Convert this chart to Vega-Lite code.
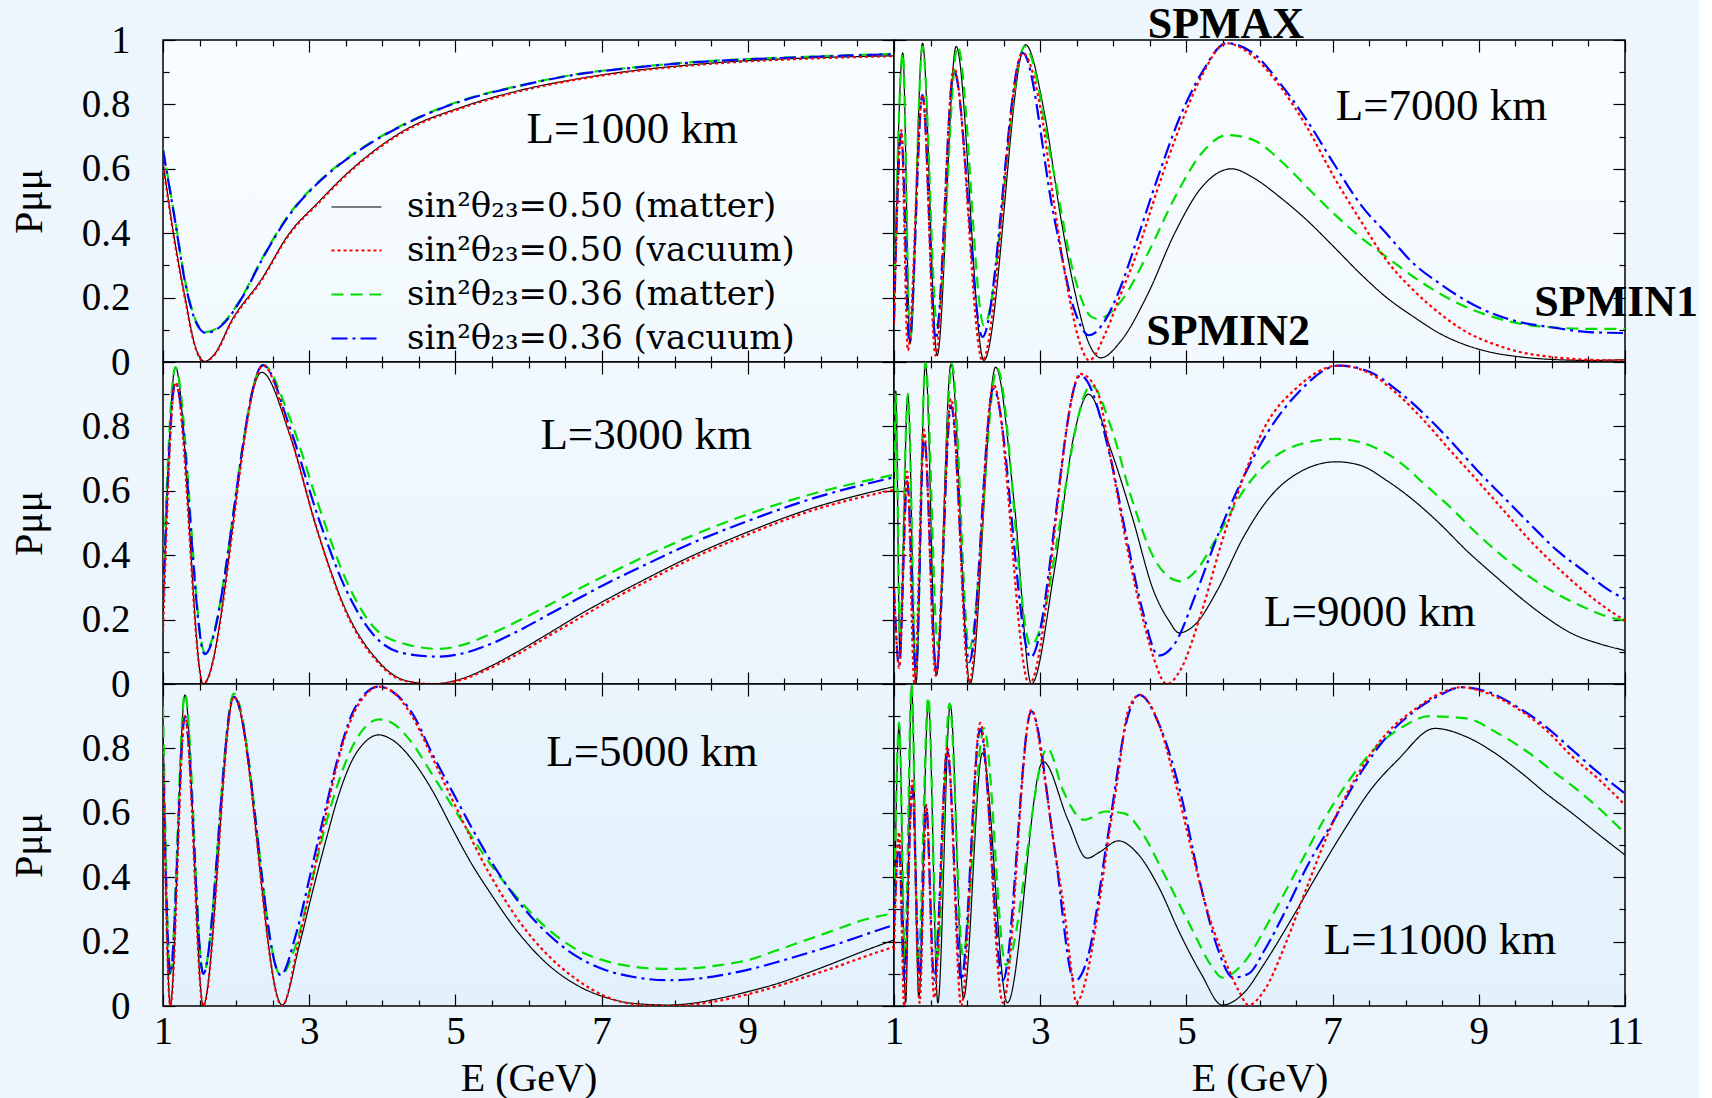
{
"$schema": "https://vega.github.io/schema/vega-lite/v6.json",
"padding": {"left": 8, "top": 2, "right": 0, "bottom": 0},
"background": "#edf6fd",
"bounds": "flush",
"spacing": 0,
"columns": 2,
"datasets": {
"curves": [
{"p":1,"c":"a","e":1,"v":0.62},{"p":1,"c":"a","e":1.16,"v":0.377},{"p":1,"c":"a","e":1.31,"v":0.19},{"p":1,"c":"a","e":1.43,"v":0.057},{"p":1,"c":"a","e":1.57,"v":0.002},{"p":1,"c":"a","e":1.71,"v":0.026},{"p":1,"c":"a","e":1.94,"v":0.129},{"p":1,"c":"a","e":2.34,"v":0.254},{"p":1,"c":"a","e":2.73,"v":0.4},{"p":1,"c":"a","e":3.12,"v":0.495},{"p":1,"c":"a","e":3.51,"v":0.584},{"p":1,"c":"a","e":4.3,"v":0.719},{"p":1,"c":"a","e":5.08,"v":0.791},{"p":1,"c":"a","e":5.87,"v":0.843},{"p":1,"c":"a","e":6.66,"v":0.879},{"p":1,"c":"a","e":7.44,"v":0.905},{"p":1,"c":"a","e":8.23,"v":0.923},{"p":1,"c":"a","e":9.01,"v":0.936},{"p":1,"c":"a","e":9.8,"v":0.944},{"p":1,"c":"a","e":11,"v":0.951},
{"p":1,"c":"c","e":1,"v":0.662},{"p":1,"c":"c","e":1.16,"v":0.45},{"p":1,"c":"c","e":1.31,"v":0.243},{"p":1,"c":"c","e":1.47,"v":0.119},{"p":1,"c":"c","e":1.59,"v":0.093},{"p":1,"c":"c","e":1.79,"v":0.114},{"p":1,"c":"c","e":2.1,"v":0.21},{"p":1,"c":"c","e":2.34,"v":0.315},{"p":1,"c":"c","e":2.73,"v":0.46},{"p":1,"c":"c","e":3.12,"v":0.558},{"p":1,"c":"c","e":3.51,"v":0.631},{"p":1,"c":"c","e":4.3,"v":0.739},{"p":1,"c":"c","e":5.08,"v":0.812},{"p":1,"c":"c","e":5.87,"v":0.858},{"p":1,"c":"c","e":6.66,"v":0.894},{"p":1,"c":"c","e":7.44,"v":0.915},{"p":1,"c":"c","e":8.23,"v":0.931},{"p":1,"c":"c","e":9.01,"v":0.941},{"p":1,"c":"c","e":9.8,"v":0.948},{"p":1,"c":"c","e":11,"v":0.957},
{"p":1,"c":"d","e":1,"v":0.658},{"p":1,"c":"d","e":1.16,"v":0.445},{"p":1,"c":"d","e":1.31,"v":0.238},{"p":1,"c":"d","e":1.47,"v":0.115},{"p":1,"c":"d","e":1.59,"v":0.09},{"p":1,"c":"d","e":1.79,"v":0.111},{"p":1,"c":"d","e":2.1,"v":0.207},{"p":1,"c":"d","e":2.34,"v":0.312},{"p":1,"c":"d","e":2.73,"v":0.457},{"p":1,"c":"d","e":3.12,"v":0.556},{"p":1,"c":"d","e":3.51,"v":0.629},{"p":1,"c":"d","e":4.3,"v":0.737},{"p":1,"c":"d","e":5.08,"v":0.81},{"p":1,"c":"d","e":5.87,"v":0.857},{"p":1,"c":"d","e":6.66,"v":0.893},{"p":1,"c":"d","e":7.44,"v":0.914},{"p":1,"c":"d","e":8.23,"v":0.93},{"p":1,"c":"d","e":9.01,"v":0.94},{"p":1,"c":"d","e":9.8,"v":0.947},{"p":1,"c":"d","e":11,"v":0.956},
{"p":1,"c":"b","e":1,"v":0.615},{"p":1,"c":"b","e":1.16,"v":0.372},{"p":1,"c":"b","e":1.31,"v":0.186},{"p":1,"c":"b","e":1.43,"v":0.054},{"p":1,"c":"b","e":1.57,"v":0},{"p":1,"c":"b","e":1.71,"v":0.024},{"p":1,"c":"b","e":1.94,"v":0.126},{"p":1,"c":"b","e":2.34,"v":0.251},{"p":1,"c":"b","e":2.73,"v":0.397},{"p":1,"c":"b","e":3.12,"v":0.492},{"p":1,"c":"b","e":3.51,"v":0.581},{"p":1,"c":"b","e":4.3,"v":0.716},{"p":1,"c":"b","e":5.08,"v":0.788},{"p":1,"c":"b","e":5.87,"v":0.84},{"p":1,"c":"b","e":6.66,"v":0.877},{"p":1,"c":"b","e":7.44,"v":0.903},{"p":1,"c":"b","e":8.23,"v":0.921},{"p":1,"c":"b","e":9.01,"v":0.934},{"p":1,"c":"b","e":9.8,"v":0.942},{"p":1,"c":"b","e":11,"v":0.95},

{"p":3,"c":"a","e":1,"v":0.218},{"p":3,"c":"a","e":1.17,"v":0.984},{"p":3,"c":"a","e":1.55,"v":0},{"p":3,"c":"a","e":2.35,"v":0.968},{"p":3,"c":"a","e":2.73,"v":0.777},{"p":3,"c":"a","e":3.12,"v":0.47},{"p":3,"c":"a","e":3.51,"v":0.225},{"p":3,"c":"a","e":3.91,"v":0.08},{"p":3,"c":"a","e":4.3,"v":0.012},{"p":3,"c":"a","e":4.69,"v":0},{"p":3,"c":"a","e":5.08,"v":0.016},{"p":3,"c":"a","e":5.48,"v":0.055},{"p":3,"c":"a","e":5.87,"v":0.103},{"p":3,"c":"a","e":6.26,"v":0.155},{"p":3,"c":"a","e":6.66,"v":0.21},{"p":3,"c":"a","e":7.05,"v":0.26},{"p":3,"c":"a","e":7.44,"v":0.307},{"p":3,"c":"a","e":8.23,"v":0.397},{"p":3,"c":"a","e":9.01,"v":0.473},{"p":3,"c":"a","e":9.8,"v":0.54},{"p":3,"c":"a","e":11,"v":0.613},
{"p":3,"c":"c","e":1,"v":0.31},{"p":3,"c":"c","e":1.17,"v":0.984},{"p":3,"c":"c","e":1.57,"v":0.099},{"p":3,"c":"c","e":2.37,"v":0.99},{"p":3,"c":"c","e":2.73,"v":0.829},{"p":3,"c":"c","e":3.12,"v":0.56},{"p":3,"c":"c","e":3.51,"v":0.32},{"p":3,"c":"c","e":3.91,"v":0.17},{"p":3,"c":"c","e":4.3,"v":0.125},{"p":3,"c":"c","e":4.77,"v":0.109},{"p":3,"c":"c","e":5.08,"v":0.12},{"p":3,"c":"c","e":5.48,"v":0.155},{"p":3,"c":"c","e":5.87,"v":0.197},{"p":3,"c":"c","e":6.26,"v":0.243},{"p":3,"c":"c","e":6.66,"v":0.292},{"p":3,"c":"c","e":7.05,"v":0.337},{"p":3,"c":"c","e":7.44,"v":0.38},{"p":3,"c":"c","e":8.23,"v":0.46},{"p":3,"c":"c","e":9.01,"v":0.528},{"p":3,"c":"c","e":9.8,"v":0.585},{"p":3,"c":"c","e":11,"v":0.65},
{"p":3,"c":"d","e":1,"v":0.25},{"p":3,"c":"d","e":1.17,"v":0.937},{"p":3,"c":"d","e":1.57,"v":0.093},{"p":3,"c":"d","e":2.37,"v":0.99},{"p":3,"c":"d","e":2.73,"v":0.8},{"p":3,"c":"d","e":3.12,"v":0.52},{"p":3,"c":"d","e":3.51,"v":0.29},{"p":3,"c":"d","e":3.91,"v":0.145},{"p":3,"c":"d","e":4.3,"v":0.095},{"p":3,"c":"d","e":4.77,"v":0.085},{"p":3,"c":"d","e":5.08,"v":0.094},{"p":3,"c":"d","e":5.48,"v":0.124},{"p":3,"c":"d","e":5.87,"v":0.166},{"p":3,"c":"d","e":6.26,"v":0.214},{"p":3,"c":"d","e":6.66,"v":0.263},{"p":3,"c":"d","e":7.05,"v":0.31},{"p":3,"c":"d","e":7.44,"v":0.353},{"p":3,"c":"d","e":8.23,"v":0.437},{"p":3,"c":"d","e":9.01,"v":0.507},{"p":3,"c":"d","e":9.8,"v":0.57},{"p":3,"c":"d","e":11,"v":0.642},
{"p":3,"c":"b","e":1,"v":0.16},{"p":3,"c":"b","e":1.17,"v":0.937},{"p":3,"c":"b","e":1.55,"v":0},{"p":3,"c":"b","e":2.37,"v":0.989},{"p":3,"c":"b","e":2.73,"v":0.78},{"p":3,"c":"b","e":3.12,"v":0.47},{"p":3,"c":"b","e":3.51,"v":0.22},{"p":3,"c":"b","e":3.91,"v":0.075},{"p":3,"c":"b","e":4.3,"v":0.01},{"p":3,"c":"b","e":4.69,"v":0},{"p":3,"c":"b","e":5.08,"v":0.013},{"p":3,"c":"b","e":5.48,"v":0.05},{"p":3,"c":"b","e":5.87,"v":0.095},{"p":3,"c":"b","e":6.26,"v":0.147},{"p":3,"c":"b","e":6.66,"v":0.2},{"p":3,"c":"b","e":7.05,"v":0.251},{"p":3,"c":"b","e":7.44,"v":0.298},{"p":3,"c":"b","e":8.23,"v":0.389},{"p":3,"c":"b","e":9.01,"v":0.465},{"p":3,"c":"b","e":9.8,"v":0.533},{"p":3,"c":"b","e":11,"v":0.603},

{"p":5,"c":"a","e":1,"v":0.85},{"p":5,"c":"a","e":1.1,"v":0.003},{"p":5,"c":"a","e":1.3,"v":0.966},{"p":5,"c":"a","e":1.55,"v":0.003},{"p":5,"c":"a","e":1.97,"v":0.96},{"p":5,"c":"a","e":2.63,"v":0.003},{"p":5,"c":"a","e":2.86,"v":0.184},{"p":5,"c":"a","e":3.04,"v":0.35},{"p":5,"c":"a","e":3.23,"v":0.516},{"p":5,"c":"a","e":3.41,"v":0.66},{"p":5,"c":"a","e":3.59,"v":0.764},{"p":5,"c":"a","e":3.77,"v":0.821},{"p":5,"c":"a","e":3.95,"v":0.842},{"p":5,"c":"a","e":4.14,"v":0.826},{"p":5,"c":"a","e":4.41,"v":0.764},{"p":5,"c":"a","e":4.68,"v":0.671},{"p":5,"c":"a","e":4.96,"v":0.55},{"p":5,"c":"a","e":5.2,"v":0.45},{"p":5,"c":"a","e":5.48,"v":0.35},{"p":5,"c":"a","e":5.87,"v":0.225},{"p":5,"c":"a","e":6.26,"v":0.13},{"p":5,"c":"a","e":6.66,"v":0.065},{"p":5,"c":"a","e":7.05,"v":0.027},{"p":5,"c":"a","e":7.44,"v":0.008},{"p":5,"c":"a","e":7.91,"v":0.003},{"p":5,"c":"a","e":8.23,"v":0.008},{"p":5,"c":"a","e":8.62,"v":0.024},{"p":5,"c":"a","e":9.01,"v":0.045},{"p":5,"c":"a","e":9.41,"v":0.07},{"p":5,"c":"a","e":9.8,"v":0.101},{"p":5,"c":"a","e":10.19,"v":0.135},{"p":5,"c":"a","e":10.58,"v":0.17},{"p":5,"c":"a","e":11,"v":0.205},
{"p":5,"c":"c","e":1,"v":0.93},{"p":5,"c":"c","e":1.1,"v":0.1},{"p":5,"c":"c","e":1.3,"v":0.97},{"p":5,"c":"c","e":1.55,"v":0.1},{"p":5,"c":"c","e":1.97,"v":0.97},{"p":5,"c":"c","e":2.61,"v":0.096},{"p":5,"c":"c","e":2.81,"v":0.184},{"p":5,"c":"c","e":3.04,"v":0.391},{"p":5,"c":"c","e":3.23,"v":0.567},{"p":5,"c":"c","e":3.41,"v":0.702},{"p":5,"c":"c","e":3.59,"v":0.805},{"p":5,"c":"c","e":3.77,"v":0.867},{"p":5,"c":"c","e":3.95,"v":0.89},{"p":5,"c":"c","e":4.14,"v":0.878},{"p":5,"c":"c","e":4.41,"v":0.816},{"p":5,"c":"c","e":4.68,"v":0.72},{"p":5,"c":"c","e":4.96,"v":0.62},{"p":5,"c":"c","e":5.48,"v":0.44},{"p":5,"c":"c","e":5.87,"v":0.33},{"p":5,"c":"c","e":6.26,"v":0.24},{"p":5,"c":"c","e":6.66,"v":0.175},{"p":5,"c":"c","e":7.05,"v":0.14},{"p":5,"c":"c","e":7.44,"v":0.122},{"p":5,"c":"c","e":7.91,"v":0.115},{"p":5,"c":"c","e":8.23,"v":0.117},{"p":5,"c":"c","e":8.62,"v":0.127},{"p":5,"c":"c","e":9.01,"v":0.143},{"p":5,"c":"c","e":9.41,"v":0.174},{"p":5,"c":"c","e":9.8,"v":0.205},{"p":5,"c":"c","e":10.19,"v":0.236},{"p":5,"c":"c","e":10.58,"v":0.267},{"p":5,"c":"c","e":11,"v":0.288},
{"p":5,"c":"d","e":1,"v":0.78},{"p":5,"c":"d","e":1.1,"v":0.1},{"p":5,"c":"d","e":1.3,"v":0.9},{"p":5,"c":"d","e":1.55,"v":0.1},{"p":5,"c":"d","e":1.97,"v":0.96},{"p":5,"c":"d","e":2.61,"v":0.096},{"p":5,"c":"d","e":2.81,"v":0.215},{"p":5,"c":"d","e":3.04,"v":0.433},{"p":5,"c":"d","e":3.23,"v":0.619},{"p":5,"c":"d","e":3.41,"v":0.785},{"p":5,"c":"d","e":3.59,"v":0.909},{"p":5,"c":"d","e":3.77,"v":0.971},{"p":5,"c":"d","e":3.95,"v":0.992},{"p":5,"c":"d","e":4.14,"v":0.976},{"p":5,"c":"d","e":4.41,"v":0.909},{"p":5,"c":"d","e":4.68,"v":0.785},{"p":5,"c":"d","e":4.96,"v":0.665},{"p":5,"c":"d","e":5.48,"v":0.452},{"p":5,"c":"d","e":5.87,"v":0.322},{"p":5,"c":"d","e":6.26,"v":0.225},{"p":5,"c":"d","e":6.66,"v":0.154},{"p":5,"c":"d","e":7.05,"v":0.112},{"p":5,"c":"d","e":7.44,"v":0.09},{"p":5,"c":"d","e":7.91,"v":0.08},{"p":5,"c":"d","e":8.23,"v":0.083},{"p":5,"c":"d","e":8.62,"v":0.095},{"p":5,"c":"d","e":9.01,"v":0.113},{"p":5,"c":"d","e":9.41,"v":0.137},{"p":5,"c":"d","e":9.8,"v":0.163},{"p":5,"c":"d","e":10.19,"v":0.19},{"p":5,"c":"d","e":10.58,"v":0.22},{"p":5,"c":"d","e":11,"v":0.252},
{"p":5,"c":"b","e":1,"v":0.8},{"p":5,"c":"b","e":1.1,"v":0},{"p":5,"c":"b","e":1.3,"v":0.9},{"p":5,"c":"b","e":1.55,"v":0},{"p":5,"c":"b","e":1.97,"v":0.96},{"p":5,"c":"b","e":2.63,"v":0},{"p":5,"c":"b","e":2.86,"v":0.205},{"p":5,"c":"b","e":3.04,"v":0.391},{"p":5,"c":"b","e":3.23,"v":0.598},{"p":5,"c":"b","e":3.41,"v":0.774},{"p":5,"c":"b","e":3.59,"v":0.899},{"p":5,"c":"b","e":3.77,"v":0.966},{"p":5,"c":"b","e":3.95,"v":0.992},{"p":5,"c":"b","e":4.14,"v":0.976},{"p":5,"c":"b","e":4.41,"v":0.899},{"p":5,"c":"b","e":4.68,"v":0.774},{"p":5,"c":"b","e":4.96,"v":0.64},{"p":5,"c":"b","e":5.48,"v":0.405},{"p":5,"c":"b","e":5.87,"v":0.264},{"p":5,"c":"b","e":6.26,"v":0.159},{"p":5,"c":"b","e":6.66,"v":0.082},{"p":5,"c":"b","e":7.05,"v":0.03},{"p":5,"c":"b","e":7.44,"v":0.006},{"p":5,"c":"b","e":7.91,"v":0},{"p":5,"c":"b","e":8.23,"v":0.004},{"p":5,"c":"b","e":8.62,"v":0.017},{"p":5,"c":"b","e":9.01,"v":0.037},{"p":5,"c":"b","e":9.41,"v":0.062},{"p":5,"c":"b","e":9.8,"v":0.091},{"p":5,"c":"b","e":10.19,"v":0.12},{"p":5,"c":"b","e":10.58,"v":0.152},{"p":5,"c":"b","e":11,"v":0.184},

{"p":7,"c":"a","e":1,"v":0.13},{"p":7,"c":"a","e":1.12,"v":0.96},{"p":7,"c":"a","e":1.22,"v":0.057},{"p":7,"c":"a","e":1.39,"v":0.99},{"p":7,"c":"a","e":1.59,"v":0.02},{"p":7,"c":"a","e":1.85,"v":0.98},{"p":7,"c":"a","e":2.23,"v":0.005},{"p":7,"c":"a","e":2.8,"v":0.985},{"p":7,"c":"a","e":3.06,"v":0.77},{"p":7,"c":"a","e":3.28,"v":0.45},{"p":7,"c":"a","e":3.47,"v":0.222},{"p":7,"c":"a","e":3.65,"v":0.067},{"p":7,"c":"a","e":3.83,"v":0.013},{"p":7,"c":"a","e":4.11,"v":0.067},{"p":7,"c":"a","e":4.47,"v":0.21},{"p":7,"c":"a","e":4.84,"v":0.4},{"p":7,"c":"a","e":5.2,"v":0.54},{"p":7,"c":"a","e":5.62,"v":0.6},{"p":7,"c":"a","e":5.93,"v":0.57},{"p":7,"c":"a","e":6.29,"v":0.51},{"p":7,"c":"a","e":6.65,"v":0.44},{"p":7,"c":"a","e":7.02,"v":0.357},{"p":7,"c":"a","e":7.38,"v":0.274},{"p":7,"c":"a","e":7.74,"v":0.2},{"p":7,"c":"a","e":8.11,"v":0.14},{"p":7,"c":"a","e":8.47,"v":0.088},{"p":7,"c":"a","e":8.83,"v":0.052},{"p":7,"c":"a","e":9.19,"v":0.029},{"p":7,"c":"a","e":9.56,"v":0.016},{"p":7,"c":"a","e":9.99,"v":0.008},{"p":7,"c":"a","e":10.5,"v":0.005},{"p":7,"c":"a","e":11,"v":0.007},
{"p":7,"c":"c","e":1,"v":0.15},{"p":7,"c":"c","e":1.12,"v":0.96},{"p":7,"c":"c","e":1.22,"v":0.067},{"p":7,"c":"c","e":1.39,"v":0.98},{"p":7,"c":"c","e":1.59,"v":0.114},{"p":7,"c":"c","e":1.87,"v":0.98},{"p":7,"c":"c","e":2.23,"v":0.114},{"p":7,"c":"c","e":2.79,"v":0.98},{"p":7,"c":"c","e":3.19,"v":0.584},{"p":7,"c":"c","e":3.47,"v":0.264},{"p":7,"c":"c","e":3.7,"v":0.14},{"p":7,"c":"c","e":3.79,"v":0.134},{"p":7,"c":"c","e":4.11,"v":0.19},{"p":7,"c":"c","e":4.47,"v":0.336},{"p":7,"c":"c","e":4.84,"v":0.51},{"p":7,"c":"c","e":5.2,"v":0.646},{"p":7,"c":"c","e":5.56,"v":0.705},{"p":7,"c":"c","e":5.93,"v":0.688},{"p":7,"c":"c","e":6.29,"v":0.625},{"p":7,"c":"c","e":6.65,"v":0.543},{"p":7,"c":"c","e":7.02,"v":0.46},{"p":7,"c":"c","e":7.38,"v":0.388},{"p":7,"c":"c","e":7.74,"v":0.326},{"p":7,"c":"c","e":8.11,"v":0.264},{"p":7,"c":"c","e":8.47,"v":0.212},{"p":7,"c":"c","e":8.83,"v":0.17},{"p":7,"c":"c","e":9.19,"v":0.14},{"p":7,"c":"c","e":9.56,"v":0.119},{"p":7,"c":"c","e":9.99,"v":0.108},{"p":7,"c":"c","e":10.5,"v":0.103},{"p":7,"c":"c","e":11,"v":0.103},
{"p":7,"c":"d","e":1,"v":0.13},{"p":7,"c":"d","e":1.1,"v":0.71},{"p":7,"c":"d","e":1.21,"v":0.062},{"p":7,"c":"d","e":1.39,"v":0.83},{"p":7,"c":"d","e":1.57,"v":0.072},{"p":7,"c":"d","e":1.82,"v":0.905},{"p":7,"c":"d","e":2.21,"v":0.078},{"p":7,"c":"d","e":2.76,"v":0.96},{"p":7,"c":"d","e":3.19,"v":0.45},{"p":7,"c":"d","e":3.47,"v":0.16},{"p":7,"c":"d","e":3.67,"v":0.083},{"p":7,"c":"d","e":3.89,"v":0.13},{"p":7,"c":"d","e":4.1,"v":0.233},{"p":7,"c":"d","e":4.32,"v":0.377},{"p":7,"c":"d","e":4.61,"v":0.574},{"p":7,"c":"d","e":4.91,"v":0.76},{"p":7,"c":"d","e":5.2,"v":0.894},{"p":7,"c":"d","e":5.55,"v":0.99},{"p":7,"c":"d","e":5.93,"v":0.956},{"p":7,"c":"d","e":6.29,"v":0.863},{"p":7,"c":"d","e":6.65,"v":0.75},{"p":7,"c":"d","e":7.02,"v":0.615},{"p":7,"c":"d","e":7.38,"v":0.49},{"p":7,"c":"d","e":7.74,"v":0.398},{"p":7,"c":"d","e":8.11,"v":0.305},{"p":7,"c":"d","e":8.47,"v":0.243},{"p":7,"c":"d","e":8.83,"v":0.19},{"p":7,"c":"d","e":9.19,"v":0.15},{"p":7,"c":"d","e":9.56,"v":0.124},{"p":7,"c":"d","e":9.99,"v":0.108},{"p":7,"c":"d","e":10.5,"v":0.093},{"p":7,"c":"d","e":11,"v":0.09},
{"p":7,"c":"b","e":1,"v":0.12},{"p":7,"c":"b","e":1.1,"v":0.72},{"p":7,"c":"b","e":1.19,"v":0.036},{"p":7,"c":"b","e":1.39,"v":0.83},{"p":7,"c":"b","e":1.57,"v":0.02},{"p":7,"c":"b","e":1.82,"v":0.915},{"p":7,"c":"b","e":2.21,"v":0.005},{"p":7,"c":"b","e":2.76,"v":0.96},{"p":7,"c":"b","e":3.01,"v":0.78},{"p":7,"c":"b","e":3.19,"v":0.49},{"p":7,"c":"b","e":3.38,"v":0.222},{"p":7,"c":"b","e":3.56,"v":0.047},{"p":7,"c":"b","e":3.67,"v":0.005},{"p":7,"c":"b","e":3.89,"v":0.088},{"p":7,"c":"b","e":4.1,"v":0.21},{"p":7,"c":"b","e":4.32,"v":0.336},{"p":7,"c":"b","e":4.61,"v":0.54},{"p":7,"c":"b","e":4.91,"v":0.73},{"p":7,"c":"b","e":5.2,"v":0.884},{"p":7,"c":"b","e":5.55,"v":0.99},{"p":7,"c":"b","e":5.93,"v":0.946},{"p":7,"c":"b","e":6.29,"v":0.853},{"p":7,"c":"b","e":6.65,"v":0.729},{"p":7,"c":"b","e":7.02,"v":0.574},{"p":7,"c":"b","e":7.38,"v":0.44},{"p":7,"c":"b","e":7.74,"v":0.315},{"p":7,"c":"b","e":8.11,"v":0.222},{"p":7,"c":"b","e":8.47,"v":0.15},{"p":7,"c":"b","e":8.83,"v":0.093},{"p":7,"c":"b","e":9.19,"v":0.057},{"p":7,"c":"b","e":9.56,"v":0.031},{"p":7,"c":"b","e":9.99,"v":0.016},{"p":7,"c":"b","e":10.5,"v":0.007},{"p":7,"c":"b","e":11,"v":0.005},

{"p":9,"c":"a","e":1,"v":0.45},{"p":9,"c":"a","e":1.025,"v":0.91},{"p":9,"c":"a","e":1.08,"v":0.1},{"p":9,"c":"a","e":1.19,"v":0.9},{"p":9,"c":"a","e":1.3,"v":0},{"p":9,"c":"a","e":1.43,"v":0.997},{"p":9,"c":"a","e":1.58,"v":0.026},{"p":9,"c":"a","e":1.78,"v":0.994},{"p":9,"c":"a","e":2.04,"v":0},{"p":9,"c":"a","e":2.39,"v":0.984},{"p":9,"c":"a","e":2.65,"v":0.55},{"p":9,"c":"a","e":2.88,"v":0},{"p":9,"c":"a","e":3.19,"v":0.347},{"p":9,"c":"a","e":3.47,"v":0.782},{"p":9,"c":"a","e":3.66,"v":0.9},{"p":9,"c":"a","e":3.97,"v":0.725},{"p":9,"c":"a","e":4.26,"v":0.518},{"p":9,"c":"a","e":4.55,"v":0.29},{"p":9,"c":"a","e":4.76,"v":0.197},{"p":9,"c":"a","e":4.9,"v":0.159},{"p":9,"c":"a","e":5.13,"v":0.187},{"p":9,"c":"a","e":5.42,"v":0.29},{"p":9,"c":"a","e":5.78,"v":0.456},{"p":9,"c":"a","e":6.14,"v":0.58},{"p":9,"c":"a","e":6.51,"v":0.653},{"p":9,"c":"a","e":7.05,"v":0.69},{"p":9,"c":"a","e":7.38,"v":0.679},{"p":9,"c":"a","e":7.74,"v":0.632},{"p":9,"c":"a","e":8.11,"v":0.57},{"p":9,"c":"a","e":8.47,"v":0.497},{"p":9,"c":"a","e":8.83,"v":0.415},{"p":9,"c":"a","e":9.19,"v":0.342},{"p":9,"c":"a","e":9.56,"v":0.27},{"p":9,"c":"a","e":9.92,"v":0.207},{"p":9,"c":"a","e":10.28,"v":0.156},{"p":9,"c":"a","e":10.65,"v":0.125},{"p":9,"c":"a","e":11,"v":0.104},
{"p":9,"c":"c","e":1,"v":0.6},{"p":9,"c":"c","e":1.025,"v":0.9},{"p":9,"c":"c","e":1.08,"v":0.15},{"p":9,"c":"c","e":1.19,"v":0.9},{"p":9,"c":"c","e":1.3,"v":0.04},{"p":9,"c":"c","e":1.43,"v":0.997},{"p":9,"c":"c","e":1.6,"v":0.12},{"p":9,"c":"c","e":1.79,"v":0.994},{"p":9,"c":"c","e":2.03,"v":0.11},{"p":9,"c":"c","e":2.41,"v":0.98},{"p":9,"c":"c","e":2.87,"v":0.12},{"p":9,"c":"c","e":3.7,"v":0.927},{"p":9,"c":"c","e":3.97,"v":0.797},{"p":9,"c":"c","e":4.26,"v":0.57},{"p":9,"c":"c","e":4.55,"v":0.394},{"p":9,"c":"c","e":4.76,"v":0.332},{"p":9,"c":"c","e":4.92,"v":0.319},{"p":9,"c":"c","e":5.13,"v":0.352},{"p":9,"c":"c","e":5.42,"v":0.456},{"p":9,"c":"c","e":5.78,"v":0.6},{"p":9,"c":"c","e":6.14,"v":0.694},{"p":9,"c":"c","e":6.58,"v":0.746},{"p":9,"c":"c","e":7.05,"v":0.761},{"p":9,"c":"c","e":7.52,"v":0.74},{"p":9,"c":"c","e":7.89,"v":0.694},{"p":9,"c":"c","e":8.25,"v":0.622},{"p":9,"c":"c","e":8.61,"v":0.549},{"p":9,"c":"c","e":8.98,"v":0.466},{"p":9,"c":"c","e":9.34,"v":0.394},{"p":9,"c":"c","e":9.7,"v":0.332},{"p":9,"c":"c","e":10.07,"v":0.28},{"p":9,"c":"c","e":10.43,"v":0.239},{"p":9,"c":"c","e":10.79,"v":0.207},{"p":9,"c":"c","e":11,"v":0.197},
{"p":9,"c":"d","e":1,"v":0.3},{"p":9,"c":"d","e":1.07,"v":0.057},{"p":9,"c":"d","e":1.18,"v":0.63},{"p":9,"c":"d","e":1.3,"v":0.04},{"p":9,"c":"d","e":1.41,"v":0.77},{"p":9,"c":"d","e":1.58,"v":0.037},{"p":9,"c":"d","e":1.78,"v":0.865},{"p":9,"c":"d","e":2.03,"v":0.068},{"p":9,"c":"d","e":2.36,"v":0.917},{"p":9,"c":"d","e":2.87,"v":0.083},{"p":9,"c":"d","e":3.55,"v":0.958},{"p":9,"c":"d","e":3.97,"v":0.694},{"p":9,"c":"d","e":4.18,"v":0.456},{"p":9,"c":"d","e":4.4,"v":0.228},{"p":9,"c":"d","e":4.62,"v":0.088},{"p":9,"c":"d","e":4.84,"v":0.125},{"p":9,"c":"d","e":5.13,"v":0.28},{"p":9,"c":"d","e":5.42,"v":0.456},{"p":9,"c":"d","e":5.78,"v":0.642},{"p":9,"c":"d","e":6.07,"v":0.766},{"p":9,"c":"d","e":6.51,"v":0.9},{"p":9,"c":"d","e":7.09,"v":0.989},{"p":9,"c":"d","e":7.52,"v":0.968},{"p":9,"c":"d","e":7.89,"v":0.911},{"p":9,"c":"d","e":8.25,"v":0.839},{"p":9,"c":"d","e":8.61,"v":0.756},{"p":9,"c":"d","e":8.98,"v":0.663},{"p":9,"c":"d","e":9.34,"v":0.58},{"p":9,"c":"d","e":9.7,"v":0.497},{"p":9,"c":"d","e":10.07,"v":0.415},{"p":9,"c":"d","e":10.43,"v":0.352},{"p":9,"c":"d","e":10.79,"v":0.29},{"p":9,"c":"d","e":11,"v":0.264},
{"p":9,"c":"b","e":1,"v":0.3},{"p":9,"c":"b","e":1.07,"v":0.05},{"p":9,"c":"b","e":1.18,"v":0.66},{"p":9,"c":"b","e":1.28,"v":0},{"p":9,"c":"b","e":1.41,"v":0.79},{"p":9,"c":"b","e":1.57,"v":0.026},{"p":9,"c":"b","e":1.78,"v":0.886},{"p":9,"c":"b","e":2.03,"v":0.006},{"p":9,"c":"b","e":2.36,"v":0.93},{"p":9,"c":"b","e":2.85,"v":0},{"p":9,"c":"b","e":3.55,"v":0.963},{"p":9,"c":"b","e":3.78,"v":0.91},{"p":9,"c":"b","e":3.97,"v":0.694},{"p":9,"c":"b","e":4.18,"v":0.435},{"p":9,"c":"b","e":4.4,"v":0.207},{"p":9,"c":"b","e":4.55,"v":0.083},{"p":9,"c":"b","e":4.73,"v":0},{"p":9,"c":"b","e":4.91,"v":0.04},{"p":9,"c":"b","e":5.2,"v":0.218},{"p":9,"c":"b","e":5.49,"v":0.445},{"p":9,"c":"b","e":5.78,"v":0.642},{"p":9,"c":"b","e":6.07,"v":0.797},{"p":9,"c":"b","e":6.51,"v":0.92},{"p":9,"c":"b","e":7.09,"v":0.989},{"p":9,"c":"b","e":7.52,"v":0.963},{"p":9,"c":"b","e":7.89,"v":0.9},{"p":9,"c":"b","e":8.25,"v":0.818},{"p":9,"c":"b","e":8.61,"v":0.725},{"p":9,"c":"b","e":8.98,"v":0.632},{"p":9,"c":"b","e":9.34,"v":0.539},{"p":9,"c":"b","e":9.7,"v":0.446},{"p":9,"c":"b","e":10.07,"v":0.363},{"p":9,"c":"b","e":10.43,"v":0.29},{"p":9,"c":"b","e":10.79,"v":0.228},{"p":9,"c":"b","e":11,"v":0.197},

{"p":11,"c":"a","e":1,"v":0.2},{"p":11,"c":"a","e":1.07,"v":0.874},{"p":11,"c":"a","e":1.16,"v":0.01},{"p":11,"c":"a","e":1.24,"v":0.993},{"p":11,"c":"a","e":1.34,"v":0.025},{"p":11,"c":"a","e":1.47,"v":0.946},{"p":11,"c":"a","e":1.6,"v":0.01},{"p":11,"c":"a","e":1.77,"v":0.936},{"p":11,"c":"a","e":1.95,"v":0.025},{"p":11,"c":"a","e":2.21,"v":0.786},{"p":11,"c":"a","e":2.55,"v":0.01},{"p":11,"c":"a","e":3.04,"v":0.759},{"p":11,"c":"a","e":3.38,"v":0.578},{"p":11,"c":"a","e":3.64,"v":0.459},{"p":11,"c":"a","e":3.82,"v":0.479},{"p":11,"c":"a","e":4.07,"v":0.513},{"p":11,"c":"a","e":4.33,"v":0.474},{"p":11,"c":"a","e":4.62,"v":0.37},{"p":11,"c":"a","e":4.91,"v":0.226},{"p":11,"c":"a","e":5.2,"v":0.101},{"p":11,"c":"a","e":5.49,"v":0.003},{"p":11,"c":"a","e":5.78,"v":0.039},{"p":11,"c":"a","e":6.07,"v":0.133},{"p":11,"c":"a","e":6.43,"v":0.267},{"p":11,"c":"a","e":6.8,"v":0.412},{"p":11,"c":"a","e":7.16,"v":0.547},{"p":11,"c":"a","e":7.52,"v":0.671},{"p":11,"c":"a","e":7.89,"v":0.764},{"p":11,"c":"a","e":8.4,"v":0.862},{"p":11,"c":"a","e":8.83,"v":0.836},{"p":11,"c":"a","e":9.19,"v":0.79},{"p":11,"c":"a","e":9.56,"v":0.728},{"p":11,"c":"a","e":9.92,"v":0.66},{"p":11,"c":"a","e":10.28,"v":0.598},{"p":11,"c":"a","e":10.65,"v":0.531},{"p":11,"c":"a","e":11,"v":0.469},
{"p":11,"c":"c","e":1,"v":0.277},{"p":11,"c":"c","e":1.07,"v":0.88},{"p":11,"c":"c","e":1.15,"v":0.15},{"p":11,"c":"c","e":1.24,"v":0.998},{"p":11,"c":"c","e":1.33,"v":0.13},{"p":11,"c":"c","e":1.47,"v":0.96},{"p":11,"c":"c","e":1.59,"v":0.139},{"p":11,"c":"c","e":1.76,"v":0.94},{"p":11,"c":"c","e":1.94,"v":0.16},{"p":11,"c":"c","e":2.23,"v":0.863},{"p":11,"c":"c","e":2.53,"v":0.128},{"p":11,"c":"c","e":3.1,"v":0.8},{"p":11,"c":"c","e":3.31,"v":0.671},{"p":11,"c":"c","e":3.6,"v":0.578},{"p":11,"c":"c","e":3.89,"v":0.604},{"p":11,"c":"c","e":4.15,"v":0.598},{"p":11,"c":"c","e":4.4,"v":0.536},{"p":11,"c":"c","e":4.69,"v":0.412},{"p":11,"c":"c","e":5.06,"v":0.246},{"p":11,"c":"c","e":5.35,"v":0.122},{"p":11,"c":"c","e":5.49,"v":0.088},{"p":11,"c":"c","e":5.78,"v":0.133},{"p":11,"c":"c","e":6.14,"v":0.267},{"p":11,"c":"c","e":6.51,"v":0.422},{"p":11,"c":"c","e":6.88,"v":0.578},{"p":11,"c":"c","e":7.23,"v":0.702},{"p":11,"c":"c","e":7.6,"v":0.805},{"p":11,"c":"c","e":7.96,"v":0.867},{"p":11,"c":"c","e":8.32,"v":0.9},{"p":11,"c":"c","e":8.83,"v":0.893},{"p":11,"c":"c","e":9.26,"v":0.847},{"p":11,"c":"c","e":9.63,"v":0.795},{"p":11,"c":"c","e":9.99,"v":0.733},{"p":11,"c":"c","e":10.35,"v":0.671},{"p":11,"c":"c","e":10.72,"v":0.598},{"p":11,"c":"c","e":11,"v":0.536},
{"p":11,"c":"d","e":1,"v":0.25},{"p":11,"c":"d","e":1.07,"v":0.5},{"p":11,"c":"d","e":1.14,"v":0.08},{"p":11,"c":"d","e":1.25,"v":0.68},{"p":11,"c":"d","e":1.35,"v":0.08},{"p":11,"c":"d","e":1.44,"v":0.62},{"p":11,"c":"d","e":1.55,"v":0.08},{"p":11,"c":"d","e":1.73,"v":0.79},{"p":11,"c":"d","e":1.92,"v":0.08},{"p":11,"c":"d","e":2.18,"v":0.86},{"p":11,"c":"d","e":2.49,"v":0.08},{"p":11,"c":"d","e":2.88,"v":0.915},{"p":11,"c":"d","e":3.19,"v":0.5},{"p":11,"c":"d","e":3.47,"v":0.077},{"p":11,"c":"d","e":3.65,"v":0.15},{"p":11,"c":"d","e":3.92,"v":0.52},{"p":11,"c":"d","e":4.2,"v":0.9},{"p":11,"c":"d","e":4.36,"v":0.966},{"p":11,"c":"d","e":4.62,"v":0.878},{"p":11,"c":"d","e":4.91,"v":0.67},{"p":11,"c":"d","e":5.2,"v":0.37},{"p":11,"c":"d","e":5.42,"v":0.184},{"p":11,"c":"d","e":5.64,"v":0.088},{"p":11,"c":"d","e":5.85,"v":0.1},{"p":11,"c":"d","e":6.07,"v":0.174},{"p":11,"c":"d","e":6.36,"v":0.298},{"p":11,"c":"d","e":6.65,"v":0.433},{"p":11,"c":"d","e":7.02,"v":0.578},{"p":11,"c":"d","e":7.38,"v":0.722},{"p":11,"c":"d","e":7.74,"v":0.836},{"p":11,"c":"d","e":8.11,"v":0.914},{"p":11,"c":"d","e":8.47,"v":0.966},{"p":11,"c":"d","e":8.76,"v":0.99},{"p":11,"c":"d","e":9.12,"v":0.976},{"p":11,"c":"d","e":9.56,"v":0.924},{"p":11,"c":"d","e":9.92,"v":0.867},{"p":11,"c":"d","e":10.28,"v":0.795},{"p":11,"c":"d","e":10.65,"v":0.722},{"p":11,"c":"d","e":11,"v":0.66},
{"p":11,"c":"b","e":1,"v":0.174},{"p":11,"c":"b","e":1.07,"v":0.54},{"p":11,"c":"b","e":1.14,"v":0},{"p":11,"c":"b","e":1.25,"v":0.7},{"p":11,"c":"b","e":1.35,"v":0.01},{"p":11,"c":"b","e":1.44,"v":0.625},{"p":11,"c":"b","e":1.55,"v":0.025},{"p":11,"c":"b","e":1.73,"v":0.806},{"p":11,"c":"b","e":1.92,"v":0},{"p":11,"c":"b","e":2.18,"v":0.879},{"p":11,"c":"b","e":2.49,"v":0.01},{"p":11,"c":"b","e":2.88,"v":0.92},{"p":11,"c":"b","e":3.06,"v":0.708},{"p":11,"c":"b","e":3.19,"v":0.5},{"p":11,"c":"b","e":3.33,"v":0.294},{"p":11,"c":"b","e":3.44,"v":0.087},{"p":11,"c":"b","e":3.49,"v":0.01},{"p":11,"c":"b","e":3.65,"v":0.108},{"p":11,"c":"b","e":3.79,"v":0.294},{"p":11,"c":"b","e":3.92,"v":0.5},{"p":11,"c":"b","e":4.06,"v":0.708},{"p":11,"c":"b","e":4.2,"v":0.915},{"p":11,"c":"b","e":4.36,"v":0.966},{"p":11,"c":"b","e":4.62,"v":0.878},{"p":11,"c":"b","e":4.84,"v":0.702},{"p":11,"c":"b","e":5.06,"v":0.495},{"p":11,"c":"b","e":5.27,"v":0.308},{"p":11,"c":"b","e":5.49,"v":0.164},{"p":11,"c":"b","e":5.71,"v":0.05},{"p":11,"c":"b","e":5.85,"v":0.003},{"p":11,"c":"b","e":6.07,"v":0.05},{"p":11,"c":"b","e":6.36,"v":0.195},{"p":11,"c":"b","e":6.65,"v":0.37},{"p":11,"c":"b","e":7.02,"v":0.578},{"p":11,"c":"b","e":7.38,"v":0.733},{"p":11,"c":"b","e":7.74,"v":0.847},{"p":11,"c":"b","e":8.11,"v":0.919},{"p":11,"c":"b","e":8.47,"v":0.971},{"p":11,"c":"b","e":8.76,"v":0.99},{"p":11,"c":"b","e":9.12,"v":0.971},{"p":11,"c":"b","e":9.56,"v":0.919},{"p":11,"c":"b","e":9.92,"v":0.857},{"p":11,"c":"b","e":10.28,"v":0.774},{"p":11,"c":"b","e":10.65,"v":0.702},{"p":11,"c":"b","e":11,"v":0.624}
]
},
"concat": [
 {"width": 731, "height": 322,
  "view": {"fill": {"gradient": "linear", "x1": 0, "y1": 0, "x2": 0, "y2": 1, "stops": [{"offset": 0, "color": "#f9fdff"}, {"offset": 1, "color": "#f1f9fe"}]}},
  "resolve": {"axis": {"x": "independent", "y": "independent"}},
  "layer": [
   {"data": {"name": "curves"}, "transform": [{"filter": "datum.p == 1"}],
    "mark": {"type": "line", "interpolate": "monotone", "clip": true},
    "encoding": {
     "x": {"field": "e", "type": "quantitative", "scale": {"domain": [1, 11], "nice": false, "zero": false}, "axis": {"orient": "bottom", "values": [1,1.5,2,2.5,3,3.5,4,4.5,5,5.5,6,6.5,7,7.5,8,8.5,9,9.5,10,10.5,11], "labels": false, "title": null, "tickSize": {"condition": {"test": "round(datum.value*2)%4==2", "value": -12}, "value": -6}}},
     "y": {"field": "v", "type": "quantitative", "scale": {"domain": [0, 1], "nice": false}, "axis": {"orient": "left", "values": [0,0.1,0.2,0.3,0.4,0.5,0.6,0.7,0.8,0.9,1], "labelExpr": "round(datum.value*10)%2==0 ? format(datum.value,'~g') : ''", "tickSize": {"condition": {"test": "round(datum.value*10)%2==0", "value": -12}, "value": -6}, "title": "Pμμ", "labelPadding": 45, "titlePadding": 32}},
     "color": {"field": "c", "type": "nominal", "scale": {"domain": ["a","b","c","d"], "range": ["#000000","#ff0000","#00e000","#0000ff"]}, "legend": {"title": null, "labelExpr": "datum.label=='a' ? 'sin²θ₂₃=0.50 (matter)' : datum.label=='b' ? 'sin²θ₂₃=0.50 (vacuum)' : datum.label=='c' ? 'sin²θ₂₃=0.36 (matter)' : 'sin²θ₂₃=0.36 (vacuum)'"}},
     "strokeDash": {"field": "c", "type": "nominal", "scale": {"domain": ["a","b","c","d"], "range": [[1,0],[3,3],[12,7],[16,5,3,5]]}, "legend": {"title": null, "labelExpr": "datum.label=='a' ? 'sin²θ₂₃=0.50 (matter)' : datum.label=='b' ? 'sin²θ₂₃=0.50 (vacuum)' : datum.label=='c' ? 'sin²θ₂₃=0.36 (matter)' : 'sin²θ₂₃=0.36 (vacuum)'"}},
     "strokeWidth": {"field": "c", "type": "nominal", "scale": {"type": "ordinal", "domain": ["a","b","c","d"], "range": [1.2,2.2,2.2,2.2]}, "legend": {"title": null, "labelExpr": "datum.label=='a' ? 'sin²θ₂₃=0.50 (matter)' : datum.label=='b' ? 'sin²θ₂₃=0.50 (vacuum)' : datum.label=='c' ? 'sin²θ₂₃=0.36 (matter)' : 'sin²θ₂₃=0.36 (vacuum)'"}}
    }},
   {"data": {"values": [{"e": 7.42, "v": 0.724, "t": "L=1000 km"}]},
    "mark": {"type": "text", "font": "Liberation Serif", "fontSize": 45},
    "encoding": {
     "x": {"field": "e", "type": "quantitative", "axis": {"orient": "top", "values": [1,1.5,2,2.5,3,3.5,4,4.5,5,5.5,6,6.5,7,7.5,8,8.5,9,9.5,10,10.5,11], "labels": false, "title": null, "tickSize": {"condition": {"test": "round(datum.value*2)%4==2", "value": -12}, "value": -6}}},
     "y": {"field": "v", "type": "quantitative", "axis": {"orient": "right", "values": [0,0.1,0.2,0.3,0.4,0.5,0.6,0.7,0.8,0.9,1], "labels": false, "title": null, "tickSize": {"condition": {"test": "round(datum.value*10)%2==0", "value": -12}, "value": -6}}},
     "text": {"field": "t"}
    }}
  ]},
 {"width": 731, "height": 322,
  "view": {"fill": {"gradient": "linear", "x1": 0, "y1": 0, "x2": 0, "y2": 1, "stops": [{"offset": 0, "color": "#f9fdff"}, {"offset": 1, "color": "#f1f9fe"}]}},
  "resolve": {"axis": {"x": "independent", "y": "independent"}},
  "layer": [
   {"data": {"name": "curves"}, "transform": [{"filter": "datum.p == 7"}],
    "mark": {"type": "line", "interpolate": "monotone", "clip": true},
    "encoding": {
     "x": {"field": "e", "type": "quantitative", "scale": {"domain": [1, 11], "nice": false, "zero": false}, "axis": {"orient": "bottom", "values": [1,1.5,2,2.5,3,3.5,4,4.5,5,5.5,6,6.5,7,7.5,8,8.5,9,9.5,10,10.5,11], "labels": false, "title": null, "tickSize": {"condition": {"test": "round(datum.value*2)%4==2", "value": -12}, "value": -6}}},
     "y": {"field": "v", "type": "quantitative", "scale": {"domain": [0, 1], "nice": false}, "axis": {"orient": "left", "values": [0,0.1,0.2,0.3,0.4,0.5,0.6,0.7,0.8,0.9,1], "labels": false, "title": null, "tickSize": {"condition": {"test": "round(datum.value*10)%2==0", "value": -12}, "value": -6}}},
     "color": {"field": "c", "type": "nominal", "scale": {"domain": ["a","b","c","d"], "range": ["#000000","#ff0000","#00e000","#0000ff"]}, "legend": {"title": null, "labelExpr": "datum.label=='a' ? 'sin²θ₂₃=0.50 (matter)' : datum.label=='b' ? 'sin²θ₂₃=0.50 (vacuum)' : datum.label=='c' ? 'sin²θ₂₃=0.36 (matter)' : 'sin²θ₂₃=0.36 (vacuum)'"}},
     "strokeDash": {"field": "c", "type": "nominal", "scale": {"domain": ["a","b","c","d"], "range": [[1,0],[3,3],[12,7],[16,5,3,5]]}, "legend": {"title": null, "labelExpr": "datum.label=='a' ? 'sin²θ₂₃=0.50 (matter)' : datum.label=='b' ? 'sin²θ₂₃=0.50 (vacuum)' : datum.label=='c' ? 'sin²θ₂₃=0.36 (matter)' : 'sin²θ₂₃=0.36 (vacuum)'"}},
     "strokeWidth": {"field": "c", "type": "nominal", "scale": {"type": "ordinal", "domain": ["a","b","c","d"], "range": [1.2,2.2,2.2,2.2]}, "legend": {"title": null, "labelExpr": "datum.label=='a' ? 'sin²θ₂₃=0.50 (matter)' : datum.label=='b' ? 'sin²θ₂₃=0.50 (vacuum)' : datum.label=='c' ? 'sin²θ₂₃=0.36 (matter)' : 'sin²θ₂₃=0.36 (vacuum)'"}}
    }},
   {"data": {"values": [{"e": 8.49, "v": 0.796, "t": "L=7000 km"}]},
    "mark": {"type": "text", "font": "Liberation Serif", "fontSize": 45},
    "encoding": {
     "x": {"field": "e", "type": "quantitative", "axis": {"orient": "top", "values": [1,1.5,2,2.5,3,3.5,4,4.5,5,5.5,6,6.5,7,7.5,8,8.5,9,9.5,10,10.5,11], "labels": false, "title": null, "tickSize": {"condition": {"test": "round(datum.value*2)%4==2", "value": -12}, "value": -6}}},
     "y": {"field": "v", "type": "quantitative", "axis": {"orient": "right", "values": [0,0.1,0.2,0.3,0.4,0.5,0.6,0.7,0.8,0.9,1], "labels": false, "title": null, "tickSize": {"condition": {"test": "round(datum.value*10)%2==0", "value": -12}, "value": -6}}},
     "text": {"field": "t"}
    }},
   {"data": {"values": [{"e": 5.54, "v": 1.046, "t": "SPMAX"}, {"e": 5.57, "v": 0.093, "t": "SPMIN2"}, {"e": 10.88, "v": 0.183, "t": "SPMIN1"}]},
    "mark": {"type": "text", "font": "Liberation Serif", "fontSize": 44, "fontWeight": "bold"},
    "encoding": {
     "x": {"field": "e", "type": "quantitative", "axis": null},
     "y": {"field": "v", "type": "quantitative", "axis": null},
     "text": {"field": "t"}
    }}
  ]},
 {"width": 731, "height": 322,
  "view": {"fill": {"gradient": "linear", "x1": 0, "y1": 0, "x2": 0, "y2": 1, "stops": [{"offset": 0, "color": "#f1f9fe"}, {"offset": 1, "color": "#eaf5fd"}]}},
  "resolve": {"axis": {"x": "independent", "y": "independent"}},
  "layer": [
   {"data": {"name": "curves"}, "transform": [{"filter": "datum.p == 3"}],
    "mark": {"type": "line", "interpolate": "monotone", "clip": true},
    "encoding": {
     "x": {"field": "e", "type": "quantitative", "scale": {"domain": [1, 11], "nice": false, "zero": false}, "axis": {"orient": "bottom", "values": [1,1.5,2,2.5,3,3.5,4,4.5,5,5.5,6,6.5,7,7.5,8,8.5,9,9.5,10,10.5,11], "labels": false, "title": null, "tickSize": {"condition": {"test": "round(datum.value*2)%4==2", "value": -12}, "value": -6}}},
     "y": {"field": "v", "type": "quantitative", "scale": {"domain": [0, 1], "nice": false}, "axis": {"orient": "left", "values": [0,0.1,0.2,0.3,0.4,0.5,0.6,0.7,0.8,0.9,1], "labelExpr": "round(datum.value*10)%2==0 && datum.value<0.95 ? format(datum.value,'~g') : ''", "tickSize": {"condition": {"test": "round(datum.value*10)%2==0", "value": -12}, "value": -6}, "title": "Pμμ", "labelPadding": 45, "titlePadding": 32}},
     "color": {"field": "c", "type": "nominal", "scale": {"domain": ["a","b","c","d"], "range": ["#000000","#ff0000","#00e000","#0000ff"]}, "legend": {"title": null, "labelExpr": "datum.label=='a' ? 'sin²θ₂₃=0.50 (matter)' : datum.label=='b' ? 'sin²θ₂₃=0.50 (vacuum)' : datum.label=='c' ? 'sin²θ₂₃=0.36 (matter)' : 'sin²θ₂₃=0.36 (vacuum)'"}},
     "strokeDash": {"field": "c", "type": "nominal", "scale": {"domain": ["a","b","c","d"], "range": [[1,0],[3,3],[12,7],[16,5,3,5]]}, "legend": {"title": null, "labelExpr": "datum.label=='a' ? 'sin²θ₂₃=0.50 (matter)' : datum.label=='b' ? 'sin²θ₂₃=0.50 (vacuum)' : datum.label=='c' ? 'sin²θ₂₃=0.36 (matter)' : 'sin²θ₂₃=0.36 (vacuum)'"}},
     "strokeWidth": {"field": "c", "type": "nominal", "scale": {"type": "ordinal", "domain": ["a","b","c","d"], "range": [1.2,2.2,2.2,2.2]}, "legend": {"title": null, "labelExpr": "datum.label=='a' ? 'sin²θ₂₃=0.50 (matter)' : datum.label=='b' ? 'sin²θ₂₃=0.50 (vacuum)' : datum.label=='c' ? 'sin²θ₂₃=0.36 (matter)' : 'sin²θ₂₃=0.36 (vacuum)'"}}
    }},
   {"data": {"values": [{"e": 7.61, "v": 0.772, "t": "L=3000 km"}]},
    "mark": {"type": "text", "font": "Liberation Serif", "fontSize": 45},
    "encoding": {
     "x": {"field": "e", "type": "quantitative", "axis": {"orient": "top", "values": [1,1.5,2,2.5,3,3.5,4,4.5,5,5.5,6,6.5,7,7.5,8,8.5,9,9.5,10,10.5,11], "labels": false, "title": null, "tickSize": {"condition": {"test": "round(datum.value*2)%4==2", "value": -12}, "value": -6}}},
     "y": {"field": "v", "type": "quantitative", "axis": {"orient": "right", "values": [0,0.1,0.2,0.3,0.4,0.5,0.6,0.7,0.8,0.9,1], "labels": false, "title": null, "tickSize": {"condition": {"test": "round(datum.value*10)%2==0", "value": -12}, "value": -6}}},
     "text": {"field": "t"}
    }}
  ]},
 {"width": 731, "height": 322,
  "view": {"fill": {"gradient": "linear", "x1": 0, "y1": 0, "x2": 0, "y2": 1, "stops": [{"offset": 0, "color": "#f1f9fe"}, {"offset": 1, "color": "#eaf5fd"}]}},
  "resolve": {"axis": {"x": "independent", "y": "independent"}},
  "layer": [
   {"data": {"name": "curves"}, "transform": [{"filter": "datum.p == 9"}],
    "mark": {"type": "line", "interpolate": "monotone", "clip": true},
    "encoding": {
     "x": {"field": "e", "type": "quantitative", "scale": {"domain": [1, 11], "nice": false, "zero": false}, "axis": {"orient": "bottom", "values": [1,1.5,2,2.5,3,3.5,4,4.5,5,5.5,6,6.5,7,7.5,8,8.5,9,9.5,10,10.5,11], "labels": false, "title": null, "tickSize": {"condition": {"test": "round(datum.value*2)%4==2", "value": -12}, "value": -6}}},
     "y": {"field": "v", "type": "quantitative", "scale": {"domain": [0, 1], "nice": false}, "axis": {"orient": "left", "values": [0,0.1,0.2,0.3,0.4,0.5,0.6,0.7,0.8,0.9,1], "labels": false, "title": null, "tickSize": {"condition": {"test": "round(datum.value*10)%2==0", "value": -12}, "value": -6}}},
     "color": {"field": "c", "type": "nominal", "scale": {"domain": ["a","b","c","d"], "range": ["#000000","#ff0000","#00e000","#0000ff"]}, "legend": {"title": null, "labelExpr": "datum.label=='a' ? 'sin²θ₂₃=0.50 (matter)' : datum.label=='b' ? 'sin²θ₂₃=0.50 (vacuum)' : datum.label=='c' ? 'sin²θ₂₃=0.36 (matter)' : 'sin²θ₂₃=0.36 (vacuum)'"}},
     "strokeDash": {"field": "c", "type": "nominal", "scale": {"domain": ["a","b","c","d"], "range": [[1,0],[3,3],[12,7],[16,5,3,5]]}, "legend": {"title": null, "labelExpr": "datum.label=='a' ? 'sin²θ₂₃=0.50 (matter)' : datum.label=='b' ? 'sin²θ₂₃=0.50 (vacuum)' : datum.label=='c' ? 'sin²θ₂₃=0.36 (matter)' : 'sin²θ₂₃=0.36 (vacuum)'"}},
     "strokeWidth": {"field": "c", "type": "nominal", "scale": {"type": "ordinal", "domain": ["a","b","c","d"], "range": [1.2,2.2,2.2,2.2]}, "legend": {"title": null, "labelExpr": "datum.label=='a' ? 'sin²θ₂₃=0.50 (matter)' : datum.label=='b' ? 'sin²θ₂₃=0.50 (vacuum)' : datum.label=='c' ? 'sin²θ₂₃=0.36 (matter)' : 'sin²θ₂₃=0.36 (vacuum)'"}}
    }},
   {"data": {"values": [{"e": 7.51, "v": 0.223, "t": "L=9000 km"}]},
    "mark": {"type": "text", "font": "Liberation Serif", "fontSize": 45},
    "encoding": {
     "x": {"field": "e", "type": "quantitative", "axis": {"orient": "top", "values": [1,1.5,2,2.5,3,3.5,4,4.5,5,5.5,6,6.5,7,7.5,8,8.5,9,9.5,10,10.5,11], "labels": false, "title": null, "tickSize": {"condition": {"test": "round(datum.value*2)%4==2", "value": -12}, "value": -6}}},
     "y": {"field": "v", "type": "quantitative", "axis": {"orient": "right", "values": [0,0.1,0.2,0.3,0.4,0.5,0.6,0.7,0.8,0.9,1], "labels": false, "title": null, "tickSize": {"condition": {"test": "round(datum.value*10)%2==0", "value": -12}, "value": -6}}},
     "text": {"field": "t"}
    }}
  ]},
 {"width": 731, "height": 322,
  "view": {"fill": {"gradient": "linear", "x1": 0, "y1": 0, "x2": 0, "y2": 1, "stops": [{"offset": 0, "color": "#eaf5fd"}, {"offset": 1, "color": "#e2f1fc"}]}},
  "resolve": {"axis": {"x": "independent", "y": "independent"}},
  "layer": [
   {"data": {"name": "curves"}, "transform": [{"filter": "datum.p == 5"}],
    "mark": {"type": "line", "interpolate": "monotone", "clip": true},
    "encoding": {
     "x": {"field": "e", "type": "quantitative", "scale": {"domain": [1, 11], "nice": false, "zero": false}, "axis": {"orient": "bottom", "values": [1,1.5,2,2.5,3,3.5,4,4.5,5,5.5,6,6.5,7,7.5,8,8.5,9,9.5,10,10.5,11], "labelExpr": "round(datum.value*2)%4==2 && datum.value<10.5 ? format(datum.value,'~g') : ''", "tickSize": {"condition": {"test": "round(datum.value*2)%4==2", "value": -12}, "value": -6}, "title": "E (GeV)", "labelPadding": 18, "titlePadding": 1}},
     "y": {"field": "v", "type": "quantitative", "scale": {"domain": [0, 1], "nice": false}, "axis": {"orient": "left", "values": [0,0.1,0.2,0.3,0.4,0.5,0.6,0.7,0.8,0.9,1], "labelExpr": "round(datum.value*10)%2==0 && datum.value<0.95 ? format(datum.value,'~g') : ''", "tickSize": {"condition": {"test": "round(datum.value*10)%2==0", "value": -12}, "value": -6}, "title": "Pμμ", "labelPadding": 45, "titlePadding": 32}},
     "color": {"field": "c", "type": "nominal", "scale": {"domain": ["a","b","c","d"], "range": ["#000000","#ff0000","#00e000","#0000ff"]}, "legend": {"title": null, "labelExpr": "datum.label=='a' ? 'sin²θ₂₃=0.50 (matter)' : datum.label=='b' ? 'sin²θ₂₃=0.50 (vacuum)' : datum.label=='c' ? 'sin²θ₂₃=0.36 (matter)' : 'sin²θ₂₃=0.36 (vacuum)'"}},
     "strokeDash": {"field": "c", "type": "nominal", "scale": {"domain": ["a","b","c","d"], "range": [[1,0],[3,3],[12,7],[16,5,3,5]]}, "legend": {"title": null, "labelExpr": "datum.label=='a' ? 'sin²θ₂₃=0.50 (matter)' : datum.label=='b' ? 'sin²θ₂₃=0.50 (vacuum)' : datum.label=='c' ? 'sin²θ₂₃=0.36 (matter)' : 'sin²θ₂₃=0.36 (vacuum)'"}},
     "strokeWidth": {"field": "c", "type": "nominal", "scale": {"type": "ordinal", "domain": ["a","b","c","d"], "range": [1.2,2.2,2.2,2.2]}, "legend": {"title": null, "labelExpr": "datum.label=='a' ? 'sin²θ₂₃=0.50 (matter)' : datum.label=='b' ? 'sin²θ₂₃=0.50 (vacuum)' : datum.label=='c' ? 'sin²θ₂₃=0.36 (matter)' : 'sin²θ₂₃=0.36 (vacuum)'"}}
    }},
   {"data": {"values": [{"e": 7.69, "v": 0.789, "t": "L=5000 km"}]},
    "mark": {"type": "text", "font": "Liberation Serif", "fontSize": 45},
    "encoding": {
     "x": {"field": "e", "type": "quantitative", "axis": {"orient": "top", "values": [1,1.5,2,2.5,3,3.5,4,4.5,5,5.5,6,6.5,7,7.5,8,8.5,9,9.5,10,10.5,11], "labels": false, "title": null, "tickSize": {"condition": {"test": "round(datum.value*2)%4==2", "value": -12}, "value": -6}}},
     "y": {"field": "v", "type": "quantitative", "axis": {"orient": "right", "values": [0,0.1,0.2,0.3,0.4,0.5,0.6,0.7,0.8,0.9,1], "labels": false, "title": null, "tickSize": {"condition": {"test": "round(datum.value*10)%2==0", "value": -12}, "value": -6}}},
     "text": {"field": "t"}
    }}
  ]},
 {"width": 731, "height": 322,
  "view": {"fill": {"gradient": "linear", "x1": 0, "y1": 0, "x2": 0, "y2": 1, "stops": [{"offset": 0, "color": "#eaf5fd"}, {"offset": 1, "color": "#e2f1fc"}]}},
  "resolve": {"axis": {"x": "independent", "y": "independent"}},
  "layer": [
   {"data": {"name": "curves"}, "transform": [{"filter": "datum.p == 11"}],
    "mark": {"type": "line", "interpolate": "monotone", "clip": true},
    "encoding": {
     "x": {"field": "e", "type": "quantitative", "scale": {"domain": [1, 11], "nice": false, "zero": false}, "axis": {"orient": "bottom", "values": [1,1.5,2,2.5,3,3.5,4,4.5,5,5.5,6,6.5,7,7.5,8,8.5,9,9.5,10,10.5,11], "labelExpr": "round(datum.value*2)%4==2 ? format(datum.value,'~g') : ''", "tickSize": {"condition": {"test": "round(datum.value*2)%4==2", "value": -12}, "value": -6}, "title": "E (GeV)", "labelPadding": 18, "titlePadding": 1}},
     "y": {"field": "v", "type": "quantitative", "scale": {"domain": [0, 1], "nice": false}, "axis": {"orient": "left", "values": [0,0.1,0.2,0.3,0.4,0.5,0.6,0.7,0.8,0.9,1], "labels": false, "title": null, "tickSize": {"condition": {"test": "round(datum.value*10)%2==0", "value": -12}, "value": -6}}},
     "color": {"field": "c", "type": "nominal", "scale": {"domain": ["a","b","c","d"], "range": ["#000000","#ff0000","#00e000","#0000ff"]}, "legend": {"title": null, "labelExpr": "datum.label=='a' ? 'sin²θ₂₃=0.50 (matter)' : datum.label=='b' ? 'sin²θ₂₃=0.50 (vacuum)' : datum.label=='c' ? 'sin²θ₂₃=0.36 (matter)' : 'sin²θ₂₃=0.36 (vacuum)'"}},
     "strokeDash": {"field": "c", "type": "nominal", "scale": {"domain": ["a","b","c","d"], "range": [[1,0],[3,3],[12,7],[16,5,3,5]]}, "legend": {"title": null, "labelExpr": "datum.label=='a' ? 'sin²θ₂₃=0.50 (matter)' : datum.label=='b' ? 'sin²θ₂₃=0.50 (vacuum)' : datum.label=='c' ? 'sin²θ₂₃=0.36 (matter)' : 'sin²θ₂₃=0.36 (vacuum)'"}},
     "strokeWidth": {"field": "c", "type": "nominal", "scale": {"type": "ordinal", "domain": ["a","b","c","d"], "range": [1.2,2.2,2.2,2.2]}, "legend": {"title": null, "labelExpr": "datum.label=='a' ? 'sin²θ₂₃=0.50 (matter)' : datum.label=='b' ? 'sin²θ₂₃=0.50 (vacuum)' : datum.label=='c' ? 'sin²θ₂₃=0.36 (matter)' : 'sin²θ₂₃=0.36 (vacuum)'"}}
    }},
   {"data": {"values": [{"e": 8.47, "v": 0.205, "t": "L=11000 km"}]},
    "mark": {"type": "text", "font": "Liberation Serif", "fontSize": 45},
    "encoding": {
     "x": {"field": "e", "type": "quantitative", "axis": {"orient": "top", "values": [1,1.5,2,2.5,3,3.5,4,4.5,5,5.5,6,6.5,7,7.5,8,8.5,9,9.5,10,10.5,11], "labels": false, "title": null, "tickSize": {"condition": {"test": "round(datum.value*2)%4==2", "value": -12}, "value": -6}}},
     "y": {"field": "v", "type": "quantitative", "axis": {"orient": "right", "values": [0,0.1,0.2,0.3,0.4,0.5,0.6,0.7,0.8,0.9,1], "labels": false, "title": null, "tickSize": {"condition": {"test": "round(datum.value*10)%2==0", "value": -12}, "value": -6}}},
     "text": {"field": "t"}
    }}
  ]}
],
"config": {
 "view": {"stroke": "#000000", "strokeWidth": 1.5},
 "concat": {"spacing": 0},
 "axis": {"domain": false, "grid": false, "tickColor": "#000000", "tickWidth": 1.2, "labelFont": "Liberation Serif", "labelFontSize": 39, "labelColor": "#000000", "titleFont": "Liberation Serif", "titleFontSize": 40, "titleFontWeight": "normal", "titleColor": "#000000", "minExtent": 0, "labelFlush": false, "labelOverlap": false},
 "legend": {"orient": "none", "legendX": 167, "legendY": 141, "padding": 0, "symbolType": "stroke", "symbolSize": 2500, "labelFont": "DejaVu Serif", "labelFontSize": 34, "labelColor": "#000000", "labelOffset": 24, "labelLimit": 0, "rowPadding": 0}
}
}
